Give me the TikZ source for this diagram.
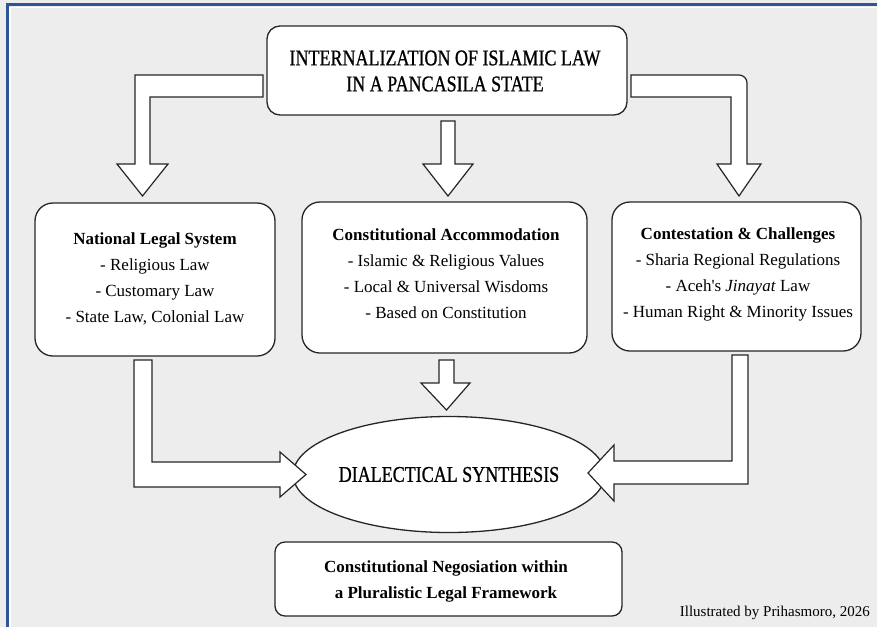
\documentclass[tikz,border=0pt]{standalone}
\usepackage{fontspec}
\setmainfont{Liberation Serif}
\newfontfamily\condfont[FakeStretch=0.8,FakeBold=0.8]{Liberation Serif}
\usetikzlibrary{shapes.geometric}
\definecolor{bgc}{HTML}{EDEDED}
\definecolor{framec}{HTML}{2F5597}
\definecolor{linec}{HTML}{262626}
\begin{document}
\begin{tikzpicture}[x=1pt,y=-1pt,
  box/.style={draw=linec, line width=1.3pt, fill=white, rounded corners=18pt, inner sep=0pt},
  boxtext/.style={align=center, inner sep=0pt, font=\fontsize{17}{26}\selectfont},
  blockarrow/.style={draw=linec, line width=1.2pt, fill=white, line join=miter},
  titlefont/.style={font=\condfont\fontsize{22.5}{26}\selectfont}
]
\useasboundingbox (0,0) rectangle (877,627);
\fill[bgc] (0,0) rectangle (877,627);
\draw[white, line width=1.5pt] (10,627) -- (10,7.5) -- (877,7.5);
\draw[framec, line width=2.2pt] (7.5,627) -- (7.5,4.5) -- (877,4.5);

% boxes
\node[box, rounded corners=13pt, minimum width=360pt, minimum height=89pt] (top) at (447,70.5) {};
\node[box, minimum width=240pt, minimum height=153pt] (nat) at (155,279.5) {};
\node[box, minimum width=285pt, minimum height=151pt] (con) at (444.5,277.5) {};
\node[box, minimum width=249pt, minimum height=149pt] (cha) at (736.5,276.5) {};
\node[ellipse, draw=linec, line width=1.3pt, fill=white, minimum width=278pt, minimum height=116pt,
  inner sep=0pt, titlefont] (syn) at (449,474.5) {DIALECTICAL SYNTHESIS};
\node[box, rounded corners=10pt, minimum width=347pt, minimum height=74pt] (neg) at (448.5,579) {};

% texts
\node[boxtext, titlefont] (toptxt) at (445,71)
  {INTERNALIZATION OF ISLAMIC LAW\\IN A PANCASILA STATE};
\node[boxtext] (nattxt) at (155,279)
  {\textbf{National Legal System}\\- Religious Law\\- Customary Law\\- State Law, Colonial Law};
\node[boxtext] (contxt) at (446,273.5)
  {\textbf{Constitutional Accommodation}\\- Islamic \& Religious Values\\- Local \& Universal Wisdoms\\- Based on Constitution};
\node[boxtext] (chatxt) at (738,274)
  {\textbf{Contestation \& Challenges}\\- Sharia Regional Regulations\\- Aceh\textquotesingle s \textit{Jinayat} Law\\- Human Right \& Minority Issues};
\node[boxtext] (negtxt) at (446,581)
  {\textbf{Constitutional Negosiation within}\\\textbf{a Pluralistic Legal Framework}};
\node[anchor=base east, inner sep=0pt, font=\fontsize{15}{18}\selectfont] (credit) at (870,616)
  {Illustrated by Prihasmoro, 2026};

% block arrows from the top box
\draw[blockarrow] (263,75) -- (135,75) -- (135,164) -- (117,164) -- (142.5,196) -- (168,164)
  -- (150,164) -- (150,97) -- (263,97) -- cycle;
\draw[blockarrow] (441,121) -- (455,121) -- (455,164) -- (473,164) -- (448,196) -- (423,164)
  -- (441,164) -- cycle;
\draw[blockarrow] (631,97) -- (631,75) [rounded corners=8pt]-- (747,75) [sharp corners]-- (747,164)
  -- (761,164) -- (739,196) -- (717,164) -- (731,164) -- (731,97) -- cycle;

% block arrows to the synthesis
\draw[blockarrow] (134,360) -- (152,360) -- (152,462) -- (280,462) -- (280,452) -- (306,474.5)
  -- (280,497) -- (280,487) -- (134,487) -- cycle;
\draw[blockarrow] (439,360) -- (454,360) -- (454,383) -- (470,383) -- (446.5,410) -- (421,383)
  -- (439,383) -- cycle;
\draw[blockarrow] (732,355) -- (748,355) -- (748,484) -- (614,484) -- (614,501) -- (588,473)
  -- (614,445) -- (614,461) -- (732,461) -- cycle;
\end{tikzpicture}
\end{document}
